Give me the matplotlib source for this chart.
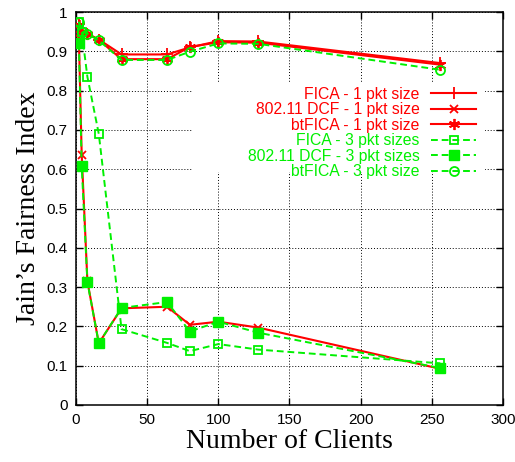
import matplotlib
matplotlib.use("Agg")
import matplotlib.pyplot as plt
from matplotlib.patches import Rectangle

# numero de clientes
clients = [2, 4, 8, 16, 32, 64, 80, 100, 128, 256]

# indice de Jain - tamano de paquete unico
fica_1 = [0.970, 0.950, 0.945, 0.930, 0.892, 0.892, 0.910, 0.926, 0.925, 0.870]
dcf_1 = [0.935, 0.637, 0.315, 0.157, 0.246, 0.250, 0.204, 0.212, 0.197, 0.092]
btfica_1 = [0.968, 0.950, 0.945, 0.929, 0.880, 0.880, 0.911, 0.923, 0.922, 0.866]

# indice de Jain - tres tamanos de paquete
fica_3 = [0.975, 0.950, 0.835, 0.690, 0.193, 0.158, 0.137, 0.155, 0.141, 0.106]
dcf_3 = [0.920, 0.607, 0.313, 0.157, 0.247, 0.262, 0.187, 0.212, 0.184, 0.094]
btfica_3 = [0.975, 0.950, 0.945, 0.928, 0.878, 0.878, 0.899, 0.920, 0.919, 0.853]

labels = ["FICA - 1 pkt size", "802.11 DCF - 1 pkt size", "btFICA - 1 pkt size",
          "FICA - 3 pkt sizes", "802.11 DCF - 3 pkt sizes", "btFICA - 3 pkt size"]

xticks = [0, 50, 100, 150, 200, 250, 300]
yticks = [0, 0.1, 0.2, 0.3, 0.4, 0.5, 0.6, 0.7, 0.8, 0.9, 1]
yticklabels = ["0", "0.1", "0.2", "0.3", "0.4", "0.5", "0.6", "0.7", "0.8", "0.9", "1"]

RED = "#ff0000"
GREEN = "#00f000"
SANS = "Liberation Sans"
SERIF = "Liberation Serif"

fig = plt.figure(figsize=(5.15, 4.62), dpi=100)
ax = fig.add_axes([0.1476, 0.1234, 0.829, 0.8506])

dash = (0, (3.5, 2))
ax.plot(clients, fica_1, color=RED, lw=1.5, marker="+", ms=8, mew=1.3, label=labels[0], zorder=3)
ax.plot(clients, dcf_1, color=RED, lw=1.5, marker="x", ms=6, mew=1.3, label=labels[1], zorder=3)
ax.plot(clients, btfica_1, color=RED, lw=1.5, marker=(6, 2, 0), ms=8, mew=1.3, label=labels[2], zorder=3)
ax.plot(clients, fica_3, color=GREEN, lw=1.4, ls=dash, marker="s", ms=6, mfc="none", mew=1.3,
        label=labels[3], zorder=4)
ax.plot(clients, dcf_3, color=GREEN, lw=1.4, ls=dash, marker="s", ms=7, mfc=GREEN, mew=1.0,
        label=labels[4], zorder=4)
ax.plot(clients, btfica_3, color=GREEN, lw=1.4, ls=dash, marker="o", ms=6.5, mfc="none", mew=1.3,
        label=labels[5], zorder=4)

ax.set_xlim(0, 300)
ax.set_ylim(0, 1)
ax.set_xticks(xticks)
ax.set_xticklabels([str(t) for t in xticks], family=SANS, fontsize=11)
ax.set_yticks(yticks)
ax.set_yticklabels(yticklabels, family=SANS, fontsize=11)
ax.tick_params(direction="in", length=5, width=1, top=True, right=True, pad=6)

ax.set_axisbelow(True)
ax.grid(True, color="black", ls=(0, (1, 2)), lw=0.7)
for s in ax.spines.values():
    s.set_linewidth(1.1)

# zona blanca detras de la leyenda (tapa la grilla)
ax.add_patch(Rectangle((0.274, 0.593), 0.684, 0.228, transform=ax.transAxes,
                       facecolor="white", edgecolor="none", zorder=1))

leg = ax.legend(loc="upper right", bbox_to_anchor=(0.956, 0.83), frameon=False,
                markerfirst=False, borderpad=0, labelspacing=0.03, handlelength=2.9,
                handletextpad=0.7, prop={"family": SANS, "size": 11.3})
for txt, col in zip(leg.get_texts(), [RED] * 3 + [GREEN] * 3):
    txt.set_color(col)

ax.set_xlabel("Number of Clients", family=SERIF, fontsize=20, labelpad=1)
ax.set_ylabel("Jain\u2019s Fairness Index", family=SERIF, fontsize=20, labelpad=4)

fig.savefig("out.png", dpi=100)
